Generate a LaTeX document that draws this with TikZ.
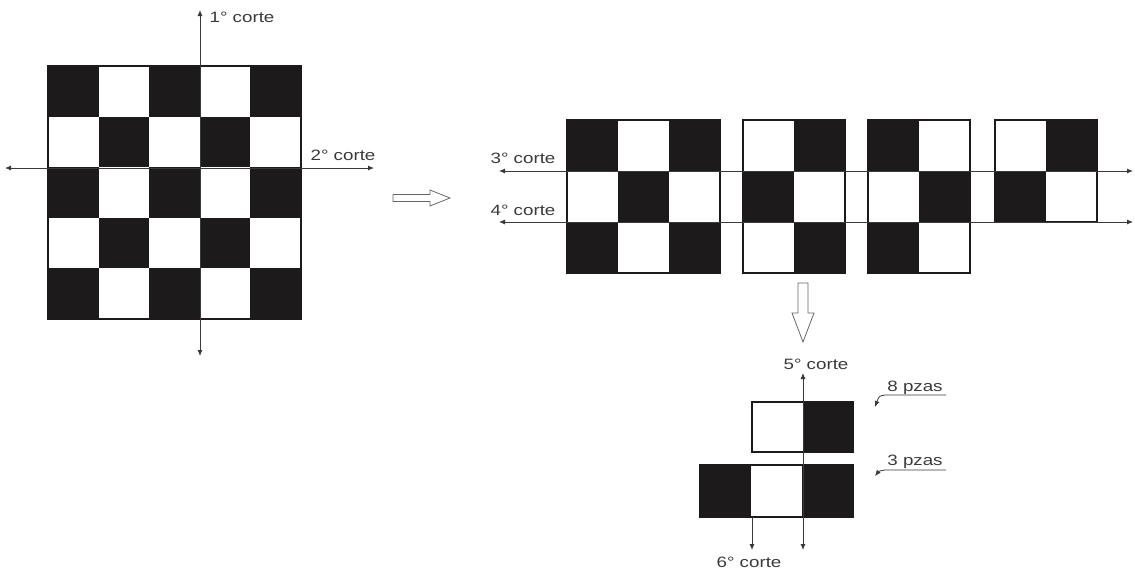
\documentclass[tikz,border=0pt]{standalone}
\usepackage{fontspec}
\setmainfont{Liberation Sans}
\newfontfamily\labfont[FakeStretch=1.25]{Liberation Sans}
\usetikzlibrary{arrows.meta}
\definecolor{boardblack}{HTML}{1C1A1B}
\definecolor{cutgray}{HTML}{3A3A3A}
\newcommand\chkboard[7]{%
  \foreach \i in {0,...,#3}{\foreach \j in {0,...,#4}{%
    \pgfmathtruncatemacro\cpar{mod(\i+\j+#7,2)}%
    \ifnum\cpar=0 \fill[boardblack] (#1+\i*#5,#2+\j*#6) rectangle ++(#5,#6);\fi
  }}%
  \draw[boardline] (#1,#2) rectangle ++({(#3+1)*#5},{(#4+1)*#6});%
}
\begin{document}
\begin{tikzpicture}[x=1pt,y=-1pt,
  boardline/.style={draw=boardblack,line width=1.3pt},
  cut/.style={draw=cutgray,line width=0.8pt},
  tip/.style={-{Latex[length=6pt,width=5pt]}},
  tips/.style={{Latex[length=6pt,width=5pt]}-{Latex[length=6pt,width=5pt]}},
  lab/.style={font=\labfont\fontsize{15}{17}\selectfont,text=cutgray,inner sep=0pt,anchor=base},
  hollow/.style={draw=gray!80!black,line width=0.8pt,fill=white}]
\useasboundingbox (0,0) rectangle (1135,574);
% left board
\chkboard{48}{66}{4}{4}{50.6}{50.6}{0}
% right boards
\chkboard{567}{120}{2}{2}{51}{51}{0}
\chkboard{743}{120}{1}{2}{51}{51}{1}
\chkboard{868}{120}{1}{2}{51}{51}{0}
\chkboard{995}{120}{1}{1}{51}{51}{1}
% small pieces
\chkboard{752}{402}{1}{0}{50.5}{50}{1}
\chkboard{700}{465}{2}{0}{51}{52}{0}
% coordinates for cuts
\coordinate (c1t) at (200,10);
\coordinate (c1b) at (200,356);
\coordinate (c2l) at (5,168);
\coordinate (c2r) at (374,168);
\coordinate (c3l) at (499,171);
\coordinate (c3r) at (1133,171);
\coordinate (c4l) at (499,222);
\coordinate (c4r) at (1133,222);
\coordinate (c5t) at (803,373);
\coordinate (c5b) at (803,550);
\coordinate (c6t) at (752,517);
\coordinate (c6b) at (752,550);
\draw[cut,tips] (c1b) -- (c1t);
\draw[cut,tips] (c2l) -- (c2r);
\draw[cut,tips] (c3l) -- (c3r);
\draw[cut,tips] (c4l) -- (c4r);
\draw[cut,tips] (c5b) -- (c5t);
\draw[cut,tip] (c6t) -- (c6b);
% labels
\node[lab] (l1) at (242,22) {1° corte};
\node[lab] (l2) at (343,160) {2° corte};
\node[lab] (l3) at (523,163) {3° corte};
\node[lab] (l4) at (523,215) {4° corte};
\node[lab] (l5) at (816,369) {5° corte};
\node[lab] (l6) at (749,567) {6° corte};
\node[lab] (p8) at (915,391) {8 pzas};
\node[lab] (p3) at (915,465) {3 pzas};
% leaders
\coordinate (u8e) at (946,395);
\coordinate (u8s) at (885,395);
\coordinate (a8) at (875,407);
\coordinate (u3e) at (946,470);
\coordinate (u3s) at (885,470);
\coordinate (a3) at (875,476);
\draw[cut,tip] (u8e) -- (u8s) .. controls (879,396) .. (a8);
\draw[cut,tip] (u3e) -- (u3s) .. controls (879,471) .. (a3);
% hollow arrows
\draw[hollow] (393,194.5) -- (430,194.5) -- (430,190) -- (450,198) -- (430,206) -- (430,201.5) -- (393,201.5) -- cycle;
\draw[hollow] (798,283) -- (808,283) -- (808,313) -- (814,313) -- (803,342) -- (792,313) -- (798,313) -- cycle;
\end{tikzpicture}
\end{document}
